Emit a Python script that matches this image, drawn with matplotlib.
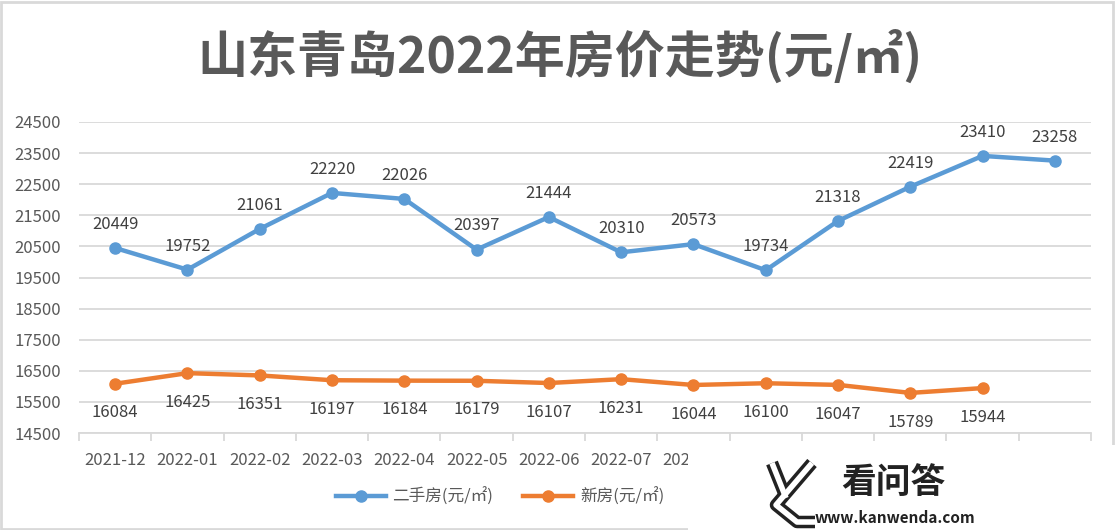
import matplotlib
matplotlib.use('Agg')
import matplotlib.pyplot as plt
from matplotlib.patches import Rectangle
from matplotlib.lines import Line2D
from matplotlib.transforms import Bbox, TransformedBbox

plt.rcParams['font.family'] = ['Noto Sans CJK SC', 'DejaVu Sans']

# data
months = ['2021-12', '2022-01', '2022-02', '2022-03', '2022-04', '2022-05', '2022-06',
          '2022-07', '2022-08', '2022-09', '2022-10', '2022-11', '2022-12', '2023-01']
second_hand = [20449, 19752, 21061, 22220, 22026, 20397, 21444,
               20310, 20573, 19734, 21318, 22419, 23410, 23258]
new_home = [16084, 16425, 16351, 16197, 16184, 16179, 16107,
            16231, 16044, 16100, 16047, 15789, 15944]
y_ticks = list(range(14500, 25500, 1000))

blue = '#5B9BD5'
orange = '#ED7D31'
W, H = 1115, 530
mark_left = 688  # left edge of the watermark box, px

fig = plt.figure(figsize=(W / 100, H / 100), dpi=100)
ax = fig.add_axes([79 / W, 1 - 433 / H, (1091 - 79) / W, (433 - 122) / H])

xs = list(range(len(months)))
ax.plot(xs, second_hand, color=blue, lw=3.2, marker='o', ms=8, label='二手房(元/㎡)', zorder=3)
ax.plot(xs[:len(new_home)], new_home, color=orange, lw=3.2, marker='o', ms=8,
        label='新房(元/㎡)', zorder=3)

for i, v in enumerate(second_hand):
    ax.annotate(str(v), (i, v), xytext=(0, 17), textcoords='offset points',
                ha='center', va='center', fontsize=12, color='#404040')
for i, v in enumerate(new_home):
    ax.annotate(str(v), (i, v), xytext=(0, -21), textcoords='offset points',
                ha='center', va='center', fontsize=12, color='#404040')

ax.set_xlim(-0.5, len(months) - 0.5)
ax.set_ylim(14500, 24500)
ax.set_yticks(y_ticks)
ax.grid(axis='y', color='#d9d9d9', lw=1.3)
ax.set_axisbelow(True)
for s in ['top', 'right', 'left']:
    ax.spines[s].set_visible(False)
ax.spines['bottom'].set_color('#d9d9d9')
ax.spines['bottom'].set_linewidth(1.3)

ax.set_xticks(xs)
ax.set_xticklabels(months)
ax.set_xticks([i - 0.5 for i in range(len(months) + 1)], minor=True)
ax.tick_params(axis='x', which='major', length=0, pad=14, labelsize=12, labelcolor='#595959')
ax.tick_params(axis='x', which='minor', length=6, width=1.3, color='#d9d9d9')
ax.tick_params(axis='y', length=0, pad=13, labelsize=12, labelcolor='#595959')

# month labels under the watermark box: clip the partly hidden one, hide the rest
fig.canvas.draw()
clip = TransformedBbox(Bbox([[0, 0], [mark_left / W, 1]]), fig.transFigure)
for lab in ax.get_xticklabels():
    ext = lab.get_window_extent()
    if ext.x0 >= mark_left:
        lab.set_visible(False)
    elif ext.x1 > mark_left:
        lab.set_clip_box(clip)
        lab.set_clip_on(True)

fig.text(0.502, 1 - 57 / H, '山东青岛2022年房价走势(元/㎡)', ha='center', va='center',
         fontsize=36, fontweight='bold', color='#595959')

fig.legend(loc='center', bbox_to_anchor=(500 / W, 1 - 497 / H), ncol=2, frameon=False,
           fontsize=12, labelcolor='#595959', handlelength=3, columnspacing=1.8,
           handletextpad=0.4)

# chart border
fig.add_artist(Rectangle((0.001, 0.002), 0.997, 0.995, transform=fig.transFigure,
                         fill=False, edgecolor='#d9d9d9', lw=2, zorder=1))

# watermark box
fig.add_artist(Rectangle((mark_left / W, 0), 1 - mark_left / W, (530 - 445) / H,
                         transform=fig.transFigure, facecolor='white', edgecolor='none',
                         zorder=10))
for pts in ([(772, 463), (786, 498)], [(812, 463), (776, 505), (797, 522), (815, 522)]):
    xx = [p[0] / W for p in pts]
    yy = [1 - p[1] / H for p in pts]
    fig.add_artist(Line2D(xx, yy, transform=fig.transFigure, color='#222222', lw=9,
                          solid_capstyle='butt', zorder=11))
    fig.add_artist(Line2D(xx, yy, transform=fig.transFigure, color='white', lw=4,
                          solid_capstyle='butt', zorder=12))
fig.text(893 / W, 1 - 482 / H, '看问答', ha='center', va='center', fontsize=25,
         fontweight='bold', color='#222222', zorder=13)
fig.text(895 / W, 1 - 518 / H, 'www.kanwenda.com', ha='center', va='center', fontsize=11,
         fontweight='bold', color='#222222', zorder=13)

fig.savefig('out.png', dpi=100)
